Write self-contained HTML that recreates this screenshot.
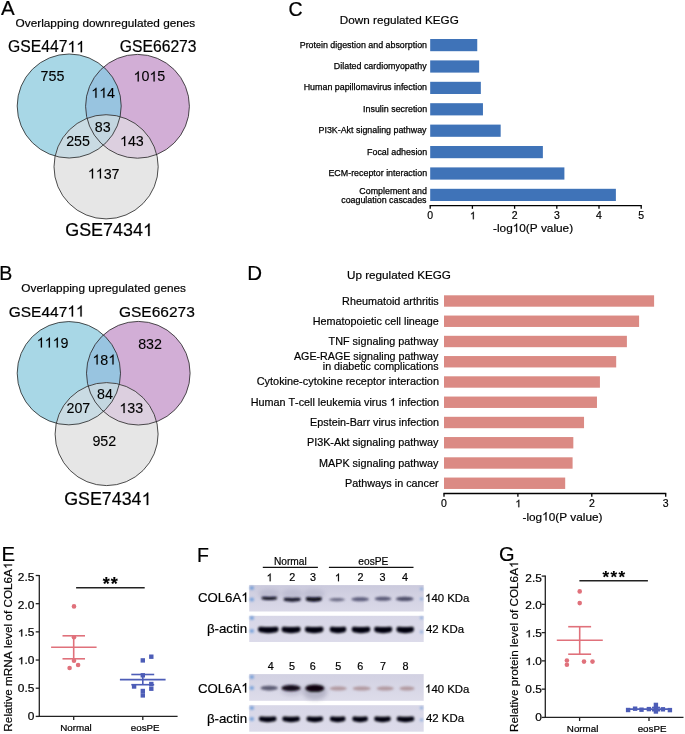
<!DOCTYPE html>
<html><head><meta charset="utf-8"><style>
html,body{margin:0;padding:0;background:#fff;width:685px;height:734px;overflow:hidden}
svg{display:block;font-family:"Liberation Sans",sans-serif;will-change:transform;font-kerning:none}
text{font-kerning:none}
</style></head><body>
<svg width="685" height="734" viewBox="0 0 685 734">
<defs><clipPath id="cla"><circle cx="69.2" cy="106.0" r="52.0"/></clipPath><clipPath id="cra"><circle cx="137.5" cy="106.3" r="51.9"/></clipPath></defs>
<circle cx="69.2" cy="106.0" r="52.0" fill="#a8d7e6"/>
<circle cx="137.5" cy="106.3" r="51.9" fill="#d2aed6"/>
<circle cx="106.1" cy="166.8" r="52.1" fill="#e6e6e6"/>
<circle cx="137.5" cy="106.3" r="51.9" fill="#98c4e0" clip-path="url(#cla)"/>
<circle cx="106.1" cy="166.8" r="52.1" fill="#c9dbe3" clip-path="url(#cla)"/>
<circle cx="106.1" cy="166.8" r="52.1" fill="#dccfdf" clip-path="url(#cra)"/>
<g clip-path="url(#cla)"><circle cx="106.1" cy="166.8" r="52.1" fill="#c3d6e0" clip-path="url(#cra)"/></g>
<circle cx="69.2" cy="106.0" r="52.0" fill="none" stroke="#222" stroke-width="0.8"/>
<circle cx="137.5" cy="106.3" r="51.9" fill="none" stroke="#222" stroke-width="0.8"/>
<circle cx="106.1" cy="166.8" r="52.1" fill="none" stroke="#222" stroke-width="0.8"/>
<g transform="translate(40.59,80.80) scale(1.02,1)"><text font-size="14.0" fill="#000" stroke="#000" stroke-width="0.1">755</text></g>
<g transform="translate(133.52,81.40) scale(1.02,1)"><text font-size="14.0" fill="#000" stroke="#000" stroke-width="0.1"> 0 5</text><path transform="translate(0.000,0) scale(0.006836,-0.006836)" d="M763,0L583,0L583,1147Q518,1085 415,1024.5Q312,964 223,931L223,1105Q374,1176 487,1276.5Q600,1377 647,1472L763,1472Z" fill="#000" stroke="#000" stroke-width="14.6"/><path transform="translate(15.572,0) scale(0.006836,-0.006836)" d="M763,0L583,0L583,1147Q518,1085 415,1024.5Q312,964 223,931L223,1105Q374,1176 487,1276.5Q600,1377 647,1472L763,1472Z" fill="#000" stroke="#000" stroke-width="14.6"/></g>
<g transform="translate(91.25,97.70) scale(1.02,1)"><text font-size="14.0" fill="#000" stroke="#000" stroke-width="0.1">  4</text><path transform="translate(0.000,0) scale(0.006836,-0.006836)" d="M763,0L583,0L583,1147Q518,1085 415,1024.5Q312,964 223,931L223,1105Q374,1176 487,1276.5Q600,1377 647,1472L763,1472Z" fill="#000" stroke="#000" stroke-width="14.6"/><path transform="translate(7.786,0) scale(0.006836,-0.006836)" d="M763,0L583,0L583,1147Q518,1085 415,1024.5Q312,964 223,931L223,1105Q374,1176 487,1276.5Q600,1377 647,1472L763,1472Z" fill="#000" stroke="#000" stroke-width="14.6"/></g>
<g transform="translate(94.77,131.80) scale(1.02,1)"><text font-size="14.0" fill="#000" stroke="#000" stroke-width="0.1">83</text></g>
<g transform="translate(66.19,146.00) scale(1.02,1)"><text font-size="14.0" fill="#000" stroke="#000" stroke-width="0.1">255</text></g>
<g transform="translate(119.96,146.00) scale(1.02,1)"><text font-size="14.0" fill="#000" stroke="#000" stroke-width="0.1"> 43</text><path transform="translate(0.000,0) scale(0.006836,-0.006836)" d="M763,0L583,0L583,1147Q518,1085 415,1024.5Q312,964 223,931L223,1105Q374,1176 487,1276.5Q600,1377 647,1472L763,1472Z" fill="#000" stroke="#000" stroke-width="14.6"/></g>
<g transform="translate(87.79,178.50) scale(1.02,1)"><text font-size="14.0" fill="#000" stroke="#000" stroke-width="0.1">  37</text><path transform="translate(0.000,0) scale(0.006836,-0.006836)" d="M763,0L583,0L583,1147Q518,1085 415,1024.5Q312,964 223,931L223,1105Q374,1176 487,1276.5Q600,1377 647,1472L763,1472Z" fill="#000" stroke="#000" stroke-width="14.6"/><path transform="translate(7.786,0) scale(0.006836,-0.006836)" d="M763,0L583,0L583,1147Q518,1085 415,1024.5Q312,964 223,931L223,1105Q374,1176 487,1276.5Q600,1377 647,1472L763,1472Z" fill="#000" stroke="#000" stroke-width="14.6"/></g>
<g transform="translate(8.12,52.20)"><text font-size="15.7" fill="#000" stroke="#000" stroke-width="0.2">GSE447  </text><path transform="translate(59.350,0) scale(0.007666,-0.007666)" d="M763,0L583,0L583,1147Q518,1085 415,1024.5Q312,964 223,931L223,1105Q374,1176 487,1276.5Q600,1377 647,1472L763,1472Z" fill="#000" stroke="#000" stroke-width="26.1"/><path transform="translate(68.082,0) scale(0.007666,-0.007666)" d="M763,0L583,0L583,1147Q518,1085 415,1024.5Q312,964 223,931L223,1105Q374,1176 487,1276.5Q600,1377 647,1472L763,1472Z" fill="#000" stroke="#000" stroke-width="26.1"/></g>
<g transform="translate(119.81,52.40)"><text font-size="15.7" fill="#000" stroke="#000" stroke-width="0.2">GSE66273</text></g>
<g transform="translate(65.20,236.10) scale(1.025,1)"><text font-size="17.5" fill="#000" stroke="#000" stroke-width="0.2">GSE7434 </text><path transform="translate(75.887,0) scale(0.008545,-0.008545)" d="M763,0L583,0L583,1147Q518,1085 415,1024.5Q312,964 223,931L223,1105Q374,1176 487,1276.5Q600,1377 647,1472L763,1472Z" fill="#000" stroke="#000" stroke-width="23.4"/></g>
<g transform="translate(15.57,27.10)"><text font-size="11.8" fill="#000" stroke="#000" stroke-width="0.2">Overlapping downregulated genes</text></g>
<g transform="translate(1.10,14.90)"><text font-size="20.5" fill="#000" stroke="#000" stroke-width="0.2">A</text></g>
<defs><clipPath id="clb"><circle cx="68.85" cy="373.2" r="51.65"/></clipPath><clipPath id="crb"><circle cx="138.3" cy="373.2" r="51.8"/></clipPath></defs>
<circle cx="68.85" cy="373.2" r="51.65" fill="#a8d7e6"/>
<circle cx="138.3" cy="373.2" r="51.8" fill="#d2aed6"/>
<circle cx="106.6" cy="434.1" r="51.5" fill="#e6e6e6"/>
<circle cx="138.3" cy="373.2" r="51.8" fill="#98c4e0" clip-path="url(#clb)"/>
<circle cx="106.6" cy="434.1" r="51.5" fill="#c9dbe3" clip-path="url(#clb)"/>
<circle cx="106.6" cy="434.1" r="51.5" fill="#dccfdf" clip-path="url(#crb)"/>
<g clip-path="url(#clb)"><circle cx="106.6" cy="434.1" r="51.5" fill="#c3d6e0" clip-path="url(#crb)"/></g>
<circle cx="68.85" cy="373.2" r="51.65" fill="none" stroke="#222" stroke-width="0.8"/>
<circle cx="138.3" cy="373.2" r="51.8" fill="none" stroke="#222" stroke-width="0.8"/>
<circle cx="106.6" cy="434.1" r="51.5" fill="none" stroke="#222" stroke-width="0.8"/>
<g transform="translate(36.71,347.60) scale(1.02,1)"><text font-size="14.0" fill="#000" stroke="#000" stroke-width="0.1">   9</text><path transform="translate(0.000,0) scale(0.006836,-0.006836)" d="M763,0L583,0L583,1147Q518,1085 415,1024.5Q312,964 223,931L223,1105Q374,1176 487,1276.5Q600,1377 647,1472L763,1472Z" fill="#000" stroke="#000" stroke-width="14.6"/><path transform="translate(7.786,0) scale(0.006836,-0.006836)" d="M763,0L583,0L583,1147Q518,1085 415,1024.5Q312,964 223,931L223,1105Q374,1176 487,1276.5Q600,1377 647,1472L763,1472Z" fill="#000" stroke="#000" stroke-width="14.6"/><path transform="translate(15.572,0) scale(0.006836,-0.006836)" d="M763,0L583,0L583,1147Q518,1085 415,1024.5Q312,964 223,931L223,1105Q374,1176 487,1276.5Q600,1377 647,1472L763,1472Z" fill="#000" stroke="#000" stroke-width="14.6"/></g>
<g transform="translate(138.15,348.50) scale(1.02,1)"><text font-size="14.0" fill="#000" stroke="#000" stroke-width="0.1">832</text></g>
<g transform="translate(92.42,364.50) scale(1.02,1)"><text font-size="14.0" fill="#000" stroke="#000" stroke-width="0.1"> 8 </text><path transform="translate(0.000,0) scale(0.006836,-0.006836)" d="M763,0L583,0L583,1147Q518,1085 415,1024.5Q312,964 223,931L223,1105Q374,1176 487,1276.5Q600,1377 647,1472L763,1472Z" fill="#000" stroke="#000" stroke-width="14.6"/><path transform="translate(15.572,0) scale(0.006836,-0.006836)" d="M763,0L583,0L583,1147Q518,1085 415,1024.5Q312,964 223,931L223,1105Q374,1176 487,1276.5Q600,1377 647,1472L763,1472Z" fill="#000" stroke="#000" stroke-width="14.6"/></g>
<g transform="translate(97.02,398.60) scale(1.02,1)"><text font-size="14.0" fill="#000" stroke="#000" stroke-width="0.1">84</text></g>
<g transform="translate(66.46,413.10) scale(1.02,1)"><text font-size="14.0" fill="#000" stroke="#000" stroke-width="0.1">207</text></g>
<g transform="translate(119.36,413.10) scale(1.02,1)"><text font-size="14.0" fill="#000" stroke="#000" stroke-width="0.1"> 33</text><path transform="translate(0.000,0) scale(0.006836,-0.006836)" d="M763,0L583,0L583,1147Q518,1085 415,1024.5Q312,964 223,931L223,1105Q374,1176 487,1276.5Q600,1377 647,1472L763,1472Z" fill="#000" stroke="#000" stroke-width="14.6"/></g>
<g transform="translate(92.40,445.80) scale(1.02,1)"><text font-size="14.0" fill="#000" stroke="#000" stroke-width="0.1">952</text></g>
<g transform="translate(8.72,316.60)"><text font-size="15.5" fill="#000" stroke="#000" stroke-width="0.2">GSE447  </text><path transform="translate(58.594,0) scale(0.007568,-0.007568)" d="M763,0L583,0L583,1147Q518,1085 415,1024.5Q312,964 223,931L223,1105Q374,1176 487,1276.5Q600,1377 647,1472L763,1472Z" fill="#000" stroke="#000" stroke-width="26.4"/><path transform="translate(67.215,0) scale(0.007568,-0.007568)" d="M763,0L583,0L583,1147Q518,1085 415,1024.5Q312,964 223,931L223,1105Q374,1176 487,1276.5Q600,1377 647,1472L763,1472Z" fill="#000" stroke="#000" stroke-width="26.4"/></g>
<g transform="translate(118.92,316.50)"><text font-size="15.5" fill="#000" stroke="#000" stroke-width="0.2">GSE66273</text></g>
<g transform="translate(64.21,505.10) scale(1.02,1)"><text font-size="17.5" fill="#000" stroke="#000" stroke-width="0.2">GSE7434 </text><path transform="translate(75.887,0) scale(0.008545,-0.008545)" d="M763,0L583,0L583,1147Q518,1085 415,1024.5Q312,964 223,931L223,1105Q374,1176 487,1276.5Q600,1377 647,1472L763,1472Z" fill="#000" stroke="#000" stroke-width="23.4"/></g>
<g transform="translate(21.37,292.40)"><text font-size="11.8" fill="#000" stroke="#000" stroke-width="0.2">Overlapping upregulated genes</text></g>
<g transform="translate(-0.86,280.40)"><text font-size="19.5" fill="#000" stroke="#000" stroke-width="0.2">B</text></g>
<g transform="translate(288.42,15.50)"><text font-size="19.5" fill="#000" stroke="#000" stroke-width="0.2">C</text></g>
<g transform="translate(339.86,24.30)"><text font-size="11.7" fill="#000" stroke="#000" stroke-width="0.2">Down regulated KEGG</text></g>
<rect x="430.2" y="39.00" width="47.05" height="12.2" fill="#3f73b8"/>
<g transform="translate(299.71,47.60)"><text font-size="8.9" fill="#000" stroke="#000" stroke-width="0.25">Protein digestion and absorption</text></g>
<rect x="430.2" y="60.40" width="48.95" height="12.2" fill="#3f73b8"/>
<g transform="translate(333.84,69.00)"><text font-size="8.9" fill="#000" stroke="#000" stroke-width="0.25">Dilated cardiomyopathy</text></g>
<rect x="430.2" y="81.80" width="50.64" height="12.2" fill="#3f73b8"/>
<g transform="translate(303.71,90.40)"><text font-size="8.9" fill="#000" stroke="#000" stroke-width="0.25">Human papillomavirus infection</text></g>
<rect x="430.2" y="103.20" width="52.75" height="12.2" fill="#3f73b8"/>
<g transform="translate(363.08,111.80)"><text font-size="8.9" fill="#000" stroke="#000" stroke-width="0.25">Insulin secretion</text></g>
<rect x="430.2" y="124.60" width="70.47" height="12.2" fill="#3f73b8"/>
<g transform="translate(318.49,133.20)"><text font-size="8.9" fill="#000" stroke="#000" stroke-width="0.25">PI3K-Akt signaling pathway</text></g>
<rect x="430.2" y="146.00" width="112.67" height="12.2" fill="#3f73b8"/>
<g transform="translate(367.04,154.60)"><text font-size="8.9" fill="#000" stroke="#000" stroke-width="0.25">Focal adhesion</text></g>
<rect x="430.2" y="167.40" width="134.20" height="12.2" fill="#3f73b8"/>
<g transform="translate(328.45,176.00)"><text font-size="8.9" fill="#000" stroke="#000" stroke-width="0.25">ECM-receptor interaction</text></g>
<rect x="430.2" y="188.80" width="185.68" height="12.2" fill="#3f73b8"/>
<g transform="translate(359.31,193.60)"><text font-size="8.9" fill="#000" stroke="#000" stroke-width="0.25">Complement and</text></g>
<g transform="translate(341.19,202.50)"><text font-size="8.9" fill="#000" stroke="#000" stroke-width="0.25">coagulation cascades</text></g>
<line x1="429.59999999999997" y1="205.6" x2="641.8000000000001" y2="205.6" stroke="#000" stroke-width="1.3"/>
<line x1="430.2" y1="205.6" x2="430.2" y2="208.79999999999998" stroke="#000" stroke-width="1.3"/>
<g transform="translate(427.29,219.30)"><text font-size="10.5" fill="#000" stroke="#000" stroke-width="0.2">0</text></g>
<line x1="472.4" y1="205.6" x2="472.4" y2="208.79999999999998" stroke="#000" stroke-width="1.3"/>
<g transform="translate(469.87,219.30)"><text font-size="10.5" fill="#000" stroke="#000" stroke-width="0.2"> </text><path transform="translate(0.000,0) scale(0.005127,-0.005127)" d="M763,0L583,0L583,1147Q518,1085 415,1024.5Q312,964 223,931L223,1105Q374,1176 487,1276.5Q600,1377 647,1472L763,1472Z" fill="#000" stroke="#000" stroke-width="39.0"/></g>
<line x1="514.6" y1="205.6" x2="514.6" y2="208.79999999999998" stroke="#000" stroke-width="1.3"/>
<g transform="translate(511.69,219.30)"><text font-size="10.5" fill="#000" stroke="#000" stroke-width="0.2">2</text></g>
<line x1="556.8" y1="205.6" x2="556.8" y2="208.79999999999998" stroke="#000" stroke-width="1.3"/>
<g transform="translate(553.91,219.30)"><text font-size="10.5" fill="#000" stroke="#000" stroke-width="0.2">3</text></g>
<line x1="599.0" y1="205.6" x2="599.0" y2="208.79999999999998" stroke="#000" stroke-width="1.3"/>
<g transform="translate(596.11,219.30)"><text font-size="10.5" fill="#000" stroke="#000" stroke-width="0.2">4</text></g>
<line x1="641.2" y1="205.6" x2="641.2" y2="208.79999999999998" stroke="#000" stroke-width="1.3"/>
<g transform="translate(638.29,219.30)"><text font-size="10.5" fill="#000" stroke="#000" stroke-width="0.2">5</text></g>
<g transform="translate(493.07,232.00)"><text font-size="11.8" fill="#000" stroke="#000" stroke-width="0.2">-log 0(P value)</text><path transform="translate(19.676,0) scale(0.005762,-0.005762)" d="M763,0L583,0L583,1147Q518,1085 415,1024.5Q312,964 223,931L223,1105Q374,1176 487,1276.5Q600,1377 647,1472L763,1472Z" fill="#000" stroke="#000" stroke-width="34.7"/></g>
<g transform="translate(247.36,279.60)"><text font-size="20.5" fill="#000" stroke="#000" stroke-width="0.2">D</text></g>
<g transform="translate(347.02,278.80)"><text font-size="11.7" fill="#000" stroke="#000" stroke-width="0.2">Up regulated KEGG</text></g>
<rect x="444.0" y="295.30" width="210.10" height="11.4" fill="#db8a84"/>
<g transform="translate(342.12,304.60)"><text font-size="10.8" fill="#000" stroke="#000" stroke-width="0.2">Rheumatoid arthritis</text></g>
<rect x="444.0" y="315.55" width="195.10" height="11.4" fill="#db8a84"/>
<g transform="translate(312.80,324.85)"><text font-size="10.8" fill="#000" stroke="#000" stroke-width="0.2">Hematopoietic cell lineage</text></g>
<rect x="444.0" y="335.80" width="182.90" height="11.4" fill="#db8a84"/>
<g transform="translate(328.62,345.10)"><text font-size="10.8" fill="#000" stroke="#000" stroke-width="0.2">TNF signaling pathway</text></g>
<rect x="444.0" y="356.05" width="172.19" height="11.4" fill="#db8a84"/>
<rect x="444.0" y="376.30" width="155.93" height="11.4" fill="#db8a84"/>
<g transform="translate(256.75,384.60)"><text font-size="10.9" fill="#000" stroke="#000" stroke-width="0.2">Cytokine-cytokine receptor interaction</text></g>
<rect x="444.0" y="396.55" width="152.97" height="11.4" fill="#db8a84"/>
<g transform="translate(250.64,405.85)"><text font-size="10.8" fill="#000" stroke="#000" stroke-width="0.2">Human T-cell leukemia virus   infection</text><path transform="translate(139.240,0) scale(0.005273,-0.005273)" d="M763,0L583,0L583,1147Q518,1085 415,1024.5Q312,964 223,931L223,1105Q374,1176 487,1276.5Q600,1377 647,1472L763,1472Z" fill="#000" stroke="#000" stroke-width="37.9"/></g>
<rect x="444.0" y="416.80" width="140.04" height="11.4" fill="#db8a84"/>
<g transform="translate(310.04,426.10)"><text font-size="10.8" fill="#000" stroke="#000" stroke-width="0.2">Epstein-Barr virus infection</text></g>
<rect x="444.0" y="437.05" width="129.33" height="11.4" fill="#db8a84"/>
<g transform="translate(306.96,446.35)"><text font-size="10.8" fill="#000" stroke="#000" stroke-width="0.2">PI3K-Akt signaling pathway</text></g>
<rect x="444.0" y="457.30" width="128.59" height="11.4" fill="#db8a84"/>
<g transform="translate(319.01,466.60)"><text font-size="10.8" fill="#000" stroke="#000" stroke-width="0.2">MAPK signaling pathway</text></g>
<rect x="444.0" y="477.55" width="121.20" height="11.4" fill="#db8a84"/>
<g transform="translate(344.93,486.85)"><text font-size="10.8" fill="#000" stroke="#000" stroke-width="0.2">Pathways in cancer</text></g>
<g transform="translate(293.95,359.90)"><text font-size="10.7" fill="#000" stroke="#000" stroke-width="0.2">AGE-RAGE signaling pathway</text></g>
<g transform="translate(322.79,369.70)"><text font-size="10.7" fill="#000" stroke="#000" stroke-width="0.2">in diabetic complications</text></g>
<line x1="443.4" y1="493.5" x2="666.3000000000001" y2="493.5" stroke="#000" stroke-width="1.3"/>
<line x1="444.0" y1="493.5" x2="444.0" y2="496.7" stroke="#000" stroke-width="1.3"/>
<g transform="translate(441.09,507.20)"><text font-size="10.5" fill="#000" stroke="#000" stroke-width="0.2">0</text></g>
<line x1="517.9" y1="493.5" x2="517.9" y2="496.7" stroke="#000" stroke-width="1.3"/>
<g transform="translate(515.37,507.20)"><text font-size="10.5" fill="#000" stroke="#000" stroke-width="0.2"> </text><path transform="translate(0.000,0) scale(0.005127,-0.005127)" d="M763,0L583,0L583,1147Q518,1085 415,1024.5Q312,964 223,931L223,1105Q374,1176 487,1276.5Q600,1377 647,1472L763,1472Z" fill="#000" stroke="#000" stroke-width="39.0"/></g>
<line x1="591.8" y1="493.5" x2="591.8" y2="496.7" stroke="#000" stroke-width="1.3"/>
<g transform="translate(588.89,507.20)"><text font-size="10.5" fill="#000" stroke="#000" stroke-width="0.2">2</text></g>
<line x1="665.7" y1="493.5" x2="665.7" y2="496.7" stroke="#000" stroke-width="1.3"/>
<g transform="translate(662.81,507.20)"><text font-size="10.5" fill="#000" stroke="#000" stroke-width="0.2">3</text></g>
<g transform="translate(522.47,520.50)"><text font-size="11.8" fill="#000" stroke="#000" stroke-width="0.2">-log 0(P value)</text><path transform="translate(19.676,0) scale(0.005762,-0.005762)" d="M763,0L583,0L583,1147Q518,1085 415,1024.5Q312,964 223,931L223,1105Q374,1176 487,1276.5Q600,1377 647,1472L763,1472Z" fill="#000" stroke="#000" stroke-width="34.7"/></g>
<line x1="39.3" y1="574.9" x2="39.3" y2="716.4" stroke="#222" stroke-width="1.3"/>
<line x1="38.699999999999996" y1="716.4" x2="177.6" y2="716.4" stroke="#222" stroke-width="1.3"/>
<line x1="35.699999999999996" y1="716.40" x2="39.3" y2="716.40" stroke="#222" stroke-width="1.3"/>
<g transform="translate(27.76,720.00) scale(1.18,1)"><text font-size="10.1" fill="#000" stroke="#000" stroke-width="0.2">0</text></g>
<line x1="35.699999999999996" y1="688.22" x2="39.3" y2="688.22" stroke="#222" stroke-width="1.3"/>
<g transform="translate(17.81,692.16) scale(1.18,1)"><text font-size="10.1" fill="#000" stroke="#000" stroke-width="0.2">0.5</text></g>
<line x1="35.699999999999996" y1="660.04" x2="39.3" y2="660.04" stroke="#222" stroke-width="1.3"/>
<g transform="translate(17.81,664.32) scale(1.18,1)"><text font-size="10.1" fill="#000" stroke="#000" stroke-width="0.2"> .0</text><path transform="translate(0.000,0) scale(0.004932,-0.004932)" d="M763,0L583,0L583,1147Q518,1085 415,1024.5Q312,964 223,931L223,1105Q374,1176 487,1276.5Q600,1377 647,1472L763,1472Z" fill="#000" stroke="#000" stroke-width="40.6"/></g>
<line x1="35.699999999999996" y1="631.86" x2="39.3" y2="631.86" stroke="#222" stroke-width="1.3"/>
<g transform="translate(17.81,636.48) scale(1.18,1)"><text font-size="10.1" fill="#000" stroke="#000" stroke-width="0.2"> .5</text><path transform="translate(0.000,0) scale(0.004932,-0.004932)" d="M763,0L583,0L583,1147Q518,1085 415,1024.5Q312,964 223,931L223,1105Q374,1176 487,1276.5Q600,1377 647,1472L763,1472Z" fill="#000" stroke="#000" stroke-width="40.6"/></g>
<line x1="35.699999999999996" y1="603.68" x2="39.3" y2="603.68" stroke="#222" stroke-width="1.3"/>
<g transform="translate(17.81,608.64) scale(1.18,1)"><text font-size="10.1" fill="#000" stroke="#000" stroke-width="0.2">2.0</text></g>
<line x1="35.699999999999996" y1="575.50" x2="39.3" y2="575.50" stroke="#222" stroke-width="1.3"/>
<g transform="translate(17.81,580.80) scale(1.18,1)"><text font-size="10.1" fill="#000" stroke="#000" stroke-width="0.2">2.5</text></g>
<line x1="73.7" y1="716.4" x2="73.7" y2="720.0" stroke="#222" stroke-width="1.3"/>
<line x1="142.8" y1="716.4" x2="142.8" y2="720.0" stroke="#222" stroke-width="1.3"/>
<g transform="translate(60.26,730.80) scale(1.1,1)"><text font-size="8.9" fill="#000" stroke="#000" stroke-width="0.2">Normal</text></g>
<g transform="translate(130.76,730.80) scale(1.1,1)"><text font-size="8.9" fill="#000" stroke="#000" stroke-width="0.2">eosPE</text></g>
<g transform="translate(1.38,560.90)"><text font-size="20.3" fill="#000" stroke="#000" stroke-width="0.2">E</text></g>
<g transform="translate(12.10,731.64) rotate(-90)"><text font-size="11.76" fill="#000" stroke="#000" stroke-width="0.2">Relative mRNA level of COL6A </text><path transform="translate(162.739,0) scale(0.005742,-0.005742)" d="M763,0L583,0L583,1147Q518,1085 415,1024.5Q312,964 223,931L223,1105Q374,1176 487,1276.5Q600,1377 647,1472L763,1472Z" fill="#000" stroke="#000" stroke-width="34.8"/></g>
<line x1="76.1" y1="587.7" x2="144.7" y2="587.7" stroke="#222" stroke-width="1.6"/>
<g transform="translate(102.69,590.00)"><text font-size="18" font-weight="bold" fill="#000" stroke="#000" stroke-width="0.15">*</text></g>
<g transform="translate(110.79,590.00)"><text font-size="18" font-weight="bold" fill="#000" stroke="#000" stroke-width="0.15">*</text></g>
<circle cx="74" cy="606.4" r="2.3" fill="#e0717b"/>
<circle cx="74" cy="637.3" r="2.3" fill="#e0717b"/>
<circle cx="74" cy="660.7" r="2.3" fill="#e0717b"/>
<circle cx="78.1" cy="665" r="2.3" fill="#e0717b"/>
<circle cx="69.6" cy="668" r="2.3" fill="#e0717b"/>
<g stroke="#e0717b" stroke-width="1.6"><line x1="51.1" y1="647.2" x2="96.6" y2="647.2"/><line x1="62.5" y1="635.8" x2="85" y2="635.8"/><line x1="62.5" y1="658.8" x2="85" y2="658.8"/><line x1="73.7" y1="635.8" x2="73.7" y2="658.8"/></g>
<rect x="140.60000000000002" y="658.1999999999999" width="4.4" height="4.4" fill="#4d5db7"/>
<rect x="149.10000000000002" y="654.5" width="4.4" height="4.4" fill="#4d5db7"/>
<rect x="140.60000000000002" y="673.0999999999999" width="4.4" height="4.4" fill="#4d5db7"/>
<rect x="131.9" y="684.3" width="4.4" height="4.4" fill="#4d5db7"/>
<rect x="149.10000000000002" y="681.8" width="4.4" height="4.4" fill="#4d5db7"/>
<rect x="149.10000000000002" y="686.5" width="4.4" height="4.4" fill="#4d5db7"/>
<rect x="140.60000000000002" y="688.8" width="4.4" height="4.4" fill="#4d5db7"/>
<rect x="140.60000000000002" y="693.1999999999999" width="4.4" height="4.4" fill="#4d5db7"/>
<g stroke="#4d5db7" stroke-width="1.6"><line x1="119.9" y1="679.6" x2="165.6" y2="679.6"/><line x1="131.3" y1="674.5" x2="154.2" y2="674.5"/><line x1="131.3" y1="684.7" x2="154.2" y2="684.7"/><line x1="142.8" y1="674.5" x2="142.8" y2="684.7"/></g>
<line x1="545.3" y1="575.5" x2="545.3" y2="717.4" stroke="#222" stroke-width="1.3"/>
<line x1="544.6999999999999" y1="717.4" x2="683.5" y2="717.4" stroke="#222" stroke-width="1.3"/>
<line x1="541.6999999999999" y1="717.40" x2="545.3" y2="717.40" stroke="#222" stroke-width="1.3"/>
<g transform="translate(535.26,720.60) scale(1.18,1)"><text font-size="10.1" fill="#000" stroke="#000" stroke-width="0.2">0</text></g>
<line x1="541.6999999999999" y1="689.14" x2="545.3" y2="689.14" stroke="#222" stroke-width="1.3"/>
<g transform="translate(525.31,692.82) scale(1.18,1)"><text font-size="10.1" fill="#000" stroke="#000" stroke-width="0.2">0.5</text></g>
<line x1="541.6999999999999" y1="660.88" x2="545.3" y2="660.88" stroke="#222" stroke-width="1.3"/>
<g transform="translate(525.31,665.04) scale(1.18,1)"><text font-size="10.1" fill="#000" stroke="#000" stroke-width="0.2"> .0</text><path transform="translate(0.000,0) scale(0.004932,-0.004932)" d="M763,0L583,0L583,1147Q518,1085 415,1024.5Q312,964 223,931L223,1105Q374,1176 487,1276.5Q600,1377 647,1472L763,1472Z" fill="#000" stroke="#000" stroke-width="40.6"/></g>
<line x1="541.6999999999999" y1="632.62" x2="545.3" y2="632.62" stroke="#222" stroke-width="1.3"/>
<g transform="translate(525.31,637.26) scale(1.18,1)"><text font-size="10.1" fill="#000" stroke="#000" stroke-width="0.2"> .5</text><path transform="translate(0.000,0) scale(0.004932,-0.004932)" d="M763,0L583,0L583,1147Q518,1085 415,1024.5Q312,964 223,931L223,1105Q374,1176 487,1276.5Q600,1377 647,1472L763,1472Z" fill="#000" stroke="#000" stroke-width="40.6"/></g>
<line x1="541.6999999999999" y1="604.36" x2="545.3" y2="604.36" stroke="#222" stroke-width="1.3"/>
<g transform="translate(525.31,609.48) scale(1.18,1)"><text font-size="10.1" fill="#000" stroke="#000" stroke-width="0.2">2.0</text></g>
<line x1="541.6999999999999" y1="576.10" x2="545.3" y2="576.10" stroke="#222" stroke-width="1.3"/>
<g transform="translate(525.31,581.70) scale(1.18,1)"><text font-size="10.1" fill="#000" stroke="#000" stroke-width="0.2">2.5</text></g>
<line x1="579.6" y1="717.4" x2="579.6" y2="721.0" stroke="#222" stroke-width="1.3"/>
<line x1="649.0" y1="717.4" x2="649.0" y2="721.0" stroke="#222" stroke-width="1.3"/>
<g transform="translate(566.86,731.70) scale(1.1,1)"><text font-size="8.9" fill="#000" stroke="#000" stroke-width="0.2">Normal</text></g>
<g transform="translate(637.66,731.70) scale(1.1,1)"><text font-size="8.9" fill="#000" stroke="#000" stroke-width="0.2">eosPE</text></g>
<g transform="translate(498.90,560.90)"><text font-size="20.0" fill="#000" stroke="#000" stroke-width="0.2">G</text></g>
<g transform="translate(518.10,731.94) rotate(-90)"><text font-size="11.76" fill="#000" stroke="#000" stroke-width="0.2">Relative protein level of COL6A </text><path transform="translate(164.072,0) scale(0.005742,-0.005742)" d="M763,0L583,0L583,1147Q518,1085 415,1024.5Q312,964 223,931L223,1105Q374,1176 487,1276.5Q600,1377 647,1472L763,1472Z" fill="#000" stroke="#000" stroke-width="34.8"/></g>
<line x1="579.4" y1="580.8" x2="647.9" y2="580.8" stroke="#222" stroke-width="1.6"/>
<g transform="translate(602.38,582.50)"><text font-size="17" font-weight="bold" fill="#000" stroke="#000" stroke-width="0.15">*</text></g>
<g transform="translate(610.48,582.50)"><text font-size="17" font-weight="bold" fill="#000" stroke="#000" stroke-width="0.15">*</text></g>
<g transform="translate(618.48,582.50)"><text font-size="17" font-weight="bold" fill="#000" stroke="#000" stroke-width="0.15">*</text></g>
<circle cx="579.7" cy="591.4" r="2.3" fill="#e0717b"/>
<circle cx="579.7" cy="603.1" r="2.3" fill="#e0717b"/>
<circle cx="566.9" cy="660.5" r="2.3" fill="#e0717b"/>
<circle cx="566.9" cy="664.8" r="2.3" fill="#e0717b"/>
<circle cx="584" cy="661.6" r="2.3" fill="#e0717b"/>
<circle cx="592.5" cy="661.6" r="2.3" fill="#e0717b"/>
<g stroke="#e0717b" stroke-width="1.6"><line x1="556.8" y1="640.3" x2="602.8" y2="640.3"/><line x1="568.2" y1="626.7" x2="591.1" y2="626.7"/><line x1="568.2" y1="654.2" x2="591.1" y2="654.2"/><line x1="579.7" y1="626.7" x2="579.7" y2="654.2"/></g>
<rect x="625.9" y="707.8" width="4.4" height="4.4" fill="#4d5db7"/>
<rect x="632.9" y="706.5" width="4.4" height="4.4" fill="#4d5db7"/>
<rect x="639.3" y="707.5" width="4.4" height="4.4" fill="#4d5db7"/>
<rect x="646.6999999999999" y="706.9" width="4.4" height="4.4" fill="#4d5db7"/>
<rect x="653.6999999999999" y="702.6999999999999" width="4.4" height="4.4" fill="#4d5db7"/>
<rect x="653.6999999999999" y="709.3" width="4.4" height="4.4" fill="#4d5db7"/>
<rect x="653.6999999999999" y="706.5999999999999" width="4.4" height="4.4" fill="#4d5db7"/>
<rect x="660.6999999999999" y="707.0999999999999" width="4.4" height="4.4" fill="#4d5db7"/>
<rect x="667.6999999999999" y="707.9" width="4.4" height="4.4" fill="#4d5db7"/>
<g stroke="#4d5db7" stroke-width="1.6"><line x1="628.8" y1="709.1" x2="669" y2="709.1"/><line x1="652" y1="707.5" x2="660" y2="707.5"/><line x1="652" y1="710.7" x2="660" y2="710.7"/><line x1="655.9" y1="707.5" x2="655.9" y2="710.7"/></g>
<g transform="translate(196.94,561.60)"><text font-size="19.5" fill="#000" stroke="#000" stroke-width="0.2">F</text></g>
<defs><filter id="bl" x="-50%" y="-100%" width="200%" height="300%"><feGaussianBlur stdDeviation="0.8"/></filter><filter id="bl2" x="-50%" y="-100%" width="200%" height="300%"><feGaussianBlur stdDeviation="2.2"/></filter><linearGradient id="g1" x1="0" y1="0" x2="0" y2="1"><stop offset="0" stop-color="#cbcadd"/><stop offset="0.45" stop-color="#d3d2e3"/><stop offset="1" stop-color="#dad9e8"/></linearGradient><linearGradient id="g3" x1="0" y1="0" x2="0" y2="1"><stop offset="0" stop-color="#d2d1e2"/><stop offset="1" stop-color="#dddcea"/></linearGradient><linearGradient id="g2" x1="0" y1="0" x2="0" y2="1"><stop offset="0" stop-color="#d8d7e7"/><stop offset="1" stop-color="#dcdbea"/></linearGradient></defs>
<rect x="249.2" y="585.1" width="174.5" height="26.399999999999977" fill="url(#g1)"/>
<rect x="249.2" y="615.8" width="174.5" height="26.200000000000045" fill="url(#g2)"/>
<rect x="249.2" y="674.1" width="174.5" height="26.699999999999932" fill="url(#g3)"/>
<rect x="249.2" y="705.2" width="174.5" height="26.5" fill="url(#g2)"/>
<ellipse cx="269.2" cy="594" rx="11.0" ry="5.0" fill="#9c9cb8" opacity="0.35" filter="url(#bl2)"/>
<ellipse cx="292.2" cy="594" rx="11.0" ry="5.0" fill="#9c9cb8" opacity="0.35" filter="url(#bl2)"/>
<ellipse cx="313.9" cy="594" rx="11.0" ry="5.0" fill="#9c9cb8" opacity="0.35" filter="url(#bl2)"/>
<path d="M261.55,598.25 C261.55,596.90 262.48,596.75 264.34,596.84 C267.75,597.02 270.85,597.02 274.26,596.84 C276.12,596.75 277.05,596.90 277.05,598.10 C277.05,599.15 276.12,599.60 273.95,599.75 C271.16,600.20 267.44,600.20 264.65,599.75 C262.48,599.60 261.55,599.15 261.55,598.25Z" fill="#0e0e20" opacity="1" filter="url(#bl)"/>
<path d="M283.70,599.42 C283.70,597.80 284.72,597.62 286.76,597.73 C290.50,597.94 293.90,597.94 297.64,597.73 C299.68,597.62 300.70,597.80 300.70,599.24 C300.70,600.50 299.68,601.04 297.30,601.22 C294.24,601.76 290.16,601.76 287.10,601.22 C284.72,601.04 283.70,600.50 283.70,599.42Z" fill="#15152a" opacity="1" filter="url(#bl)"/>
<path d="M305.80,599.08 C305.80,597.10 306.76,596.88 308.68,597.01 C312.20,597.28 315.40,597.28 318.92,597.01 C320.84,596.88 321.80,597.10 321.80,598.86 C321.80,600.40 320.84,601.06 318.60,601.28 C315.72,601.94 311.88,601.94 309.00,601.28 C306.76,601.06 305.80,600.40 305.80,599.08Z" fill="#08081a" opacity="1" filter="url(#bl)"/>
<path d="M329.00,599.60 C329.48,597.36 344.52,597.36 345.00,599.60 C344.52,601.98 329.48,601.98 329.00,599.60Z" fill="#5c5c76" opacity="0.85" filter="url(#bl)"/>
<path d="M351.45,599.20 C351.97,596.56 368.43,596.56 368.95,599.20 C368.43,602.00 351.97,602.00 351.45,599.20Z" fill="#505070" opacity="0.9" filter="url(#bl)"/>
<path d="M374.75,598.80 C375.25,596.23 390.75,596.23 391.25,598.80 C390.75,601.53 375.25,601.53 374.75,598.80Z" fill="#4c4c6a" opacity="0.9" filter="url(#bl)"/>
<path d="M395.95,598.90 C396.47,596.19 412.93,596.19 413.45,598.90 C412.93,601.77 396.47,601.77 395.95,598.90Z" fill="#464664" opacity="0.95" filter="url(#bl)"/>
<path d="M258.05,629.60 C258.05,626.90 259.28,626.60 261.74,626.78 C266.25,627.14 270.35,627.14 274.86,626.78 C277.32,626.60 278.55,626.90 278.55,629.30 C278.55,631.40 277.32,632.30 274.45,632.60 C270.76,633.50 265.84,633.50 262.15,632.60 C259.28,632.30 258.05,631.40 258.05,629.60Z" fill="#05050c" opacity="1" filter="url(#bl)"/>
<path d="M281.60,629.60 C281.60,626.90 282.74,626.60 285.02,626.78 C289.20,627.14 293.00,627.14 297.18,626.78 C299.46,626.60 300.60,626.90 300.60,629.30 C300.60,631.40 299.46,632.30 296.80,632.60 C293.38,633.50 288.82,633.50 285.40,632.60 C282.74,632.30 281.60,631.40 281.60,629.60Z" fill="#05050c" opacity="1" filter="url(#bl)"/>
<path d="M304.95,629.60 C304.95,626.90 306.06,626.60 308.28,626.78 C312.35,627.14 316.05,627.14 320.12,626.78 C322.34,626.60 323.45,626.90 323.45,629.30 C323.45,631.40 322.34,632.30 319.75,632.60 C316.42,633.50 311.98,633.50 308.65,632.60 C306.06,632.30 304.95,631.40 304.95,629.60Z" fill="#05050c" opacity="1" filter="url(#bl)"/>
<path d="M329.75,629.60 C329.75,626.90 330.74,626.60 332.72,626.78 C336.35,627.14 339.65,627.14 343.28,626.78 C345.26,626.60 346.25,626.90 346.25,629.30 C346.25,631.40 345.26,632.30 342.95,632.60 C339.98,633.50 336.02,633.50 333.05,632.60 C330.74,632.30 329.75,631.40 329.75,629.60Z" fill="#05050c" opacity="1" filter="url(#bl)"/>
<path d="M351.75,629.60 C351.75,626.90 352.86,626.60 355.08,626.78 C359.15,627.14 362.85,627.14 366.92,626.78 C369.14,626.60 370.25,626.90 370.25,629.30 C370.25,631.40 369.14,632.30 366.55,632.60 C363.22,633.50 358.78,633.50 355.45,632.60 C352.86,632.30 351.75,631.40 351.75,629.60Z" fill="#05050c" opacity="1" filter="url(#bl)"/>
<path d="M374.20,629.60 C374.20,626.90 375.28,626.60 377.44,626.78 C381.40,627.14 385.00,627.14 388.96,626.78 C391.12,626.60 392.20,626.90 392.20,629.30 C392.20,631.40 391.12,632.30 388.60,632.60 C385.36,633.50 381.04,633.50 377.80,632.60 C375.28,632.30 374.20,631.40 374.20,629.60Z" fill="#05050c" opacity="1" filter="url(#bl)"/>
<path d="M396.45,629.60 C396.45,626.90 397.50,626.60 399.60,626.78 C403.45,627.14 406.95,627.14 410.80,626.78 C412.90,626.60 413.95,626.90 413.95,629.30 C413.95,631.40 412.90,632.30 410.45,632.60 C407.30,633.50 403.10,633.50 399.95,632.60 C397.50,632.30 396.45,631.40 396.45,629.60Z" fill="#05050c" opacity="1" filter="url(#bl)"/>
<ellipse cx="292" cy="690" rx="11.0" ry="6.0" fill="#9a98b0" opacity="0.35" filter="url(#bl2)"/>
<ellipse cx="315" cy="692" rx="12.0" ry="8.0" fill="#8a88a0" opacity="0.45" filter="url(#bl2)"/>
<path d="M260.45,688.00 C260.97,684.96 277.43,684.96 277.95,688.00 C277.43,691.22 260.97,691.22 260.45,688.00Z" fill="#505068" opacity="0.9" filter="url(#bl)"/>
<path d="M281.50,688.00 C282.07,684.04 299.93,684.04 300.50,688.00 C299.93,692.20 282.07,692.20 281.50,688.00Z" fill="#140a1c" opacity="1" filter="url(#bl)"/>
<path d="M305.30,688.20 C305.87,683.58 323.73,683.58 324.30,688.20 C323.73,693.10 305.87,693.10 305.30,688.20Z" fill="#080408" opacity="1" filter="url(#bl)"/>
<path d="M329.70,688.40 C330.21,685.76 346.19,685.76 346.70,688.40 C346.19,691.20 330.21,691.20 329.70,688.40Z" fill="#a88a8e" opacity="0.8" filter="url(#bl)"/>
<path d="M352.70,688.40 C353.24,685.76 370.16,685.76 370.70,688.40 C370.16,691.20 353.24,691.20 352.70,688.40Z" fill="#a88a8e" opacity="0.8" filter="url(#bl)"/>
<path d="M376.70,688.40 C377.21,685.76 393.19,685.76 393.70,688.40 C393.19,691.20 377.21,691.20 376.70,688.40Z" fill="#a88a8e" opacity="0.8" filter="url(#bl)"/>
<path d="M399.50,688.40 C399.95,685.76 414.05,685.76 414.50,688.40 C414.05,691.20 399.95,691.20 399.50,688.40Z" fill="#a88a8e" opacity="0.8" filter="url(#bl)"/>
<path d="M258.95,718.94 C258.95,716.60 260.00,716.34 262.10,716.50 C265.95,716.81 269.45,716.81 273.30,716.50 C275.40,716.34 276.45,716.60 276.45,718.68 C276.45,720.50 275.40,721.28 272.95,721.54 C269.80,722.32 265.60,722.32 262.45,721.54 C260.00,721.28 258.95,720.50 258.95,718.94Z" fill="#06060e" opacity="1" filter="url(#bl)"/>
<path d="M282.35,718.94 C282.35,716.60 283.40,716.34 285.50,716.50 C289.35,716.81 292.85,716.81 296.70,716.50 C298.80,716.34 299.85,716.60 299.85,718.68 C299.85,720.50 298.80,721.28 296.35,721.54 C293.20,722.32 289.00,722.32 285.85,721.54 C283.40,721.28 282.35,720.50 282.35,718.94Z" fill="#06060e" opacity="1" filter="url(#bl)"/>
<path d="M306.55,718.94 C306.55,716.60 307.54,716.34 309.52,716.50 C313.15,716.81 316.45,716.81 320.08,716.50 C322.06,716.34 323.05,716.60 323.05,718.68 C323.05,720.50 322.06,721.28 319.75,721.54 C316.78,722.32 312.82,722.32 309.85,721.54 C307.54,721.28 306.55,720.50 306.55,718.94Z" fill="#06060e" opacity="1" filter="url(#bl)"/>
<path d="M329.95,718.94 C329.95,716.60 330.88,716.34 332.74,716.50 C336.15,716.81 339.25,716.81 342.66,716.50 C344.52,716.34 345.45,716.60 345.45,718.68 C345.45,720.50 344.52,721.28 342.35,721.54 C339.56,722.32 335.84,722.32 333.05,721.54 C330.88,721.28 329.95,720.50 329.95,718.94Z" fill="#06060e" opacity="1" filter="url(#bl)"/>
<path d="M352.35,718.94 C352.35,716.60 353.28,716.34 355.14,716.50 C358.55,716.81 361.65,716.81 365.06,716.50 C366.92,716.34 367.85,716.60 367.85,718.68 C367.85,720.50 366.92,721.28 364.75,721.54 C361.96,722.32 358.24,722.32 355.45,721.54 C353.28,721.28 352.35,720.50 352.35,718.94Z" fill="#06060e" opacity="1" filter="url(#bl)"/>
<path d="M374.25,718.94 C374.25,716.60 375.24,716.34 377.22,716.50 C380.85,716.81 384.15,716.81 387.78,716.50 C389.76,716.34 390.75,716.60 390.75,718.68 C390.75,720.50 389.76,721.28 387.45,721.54 C384.48,722.32 380.52,722.32 377.55,721.54 C375.24,721.28 374.25,720.50 374.25,718.94Z" fill="#06060e" opacity="1" filter="url(#bl)"/>
<path d="M396.75,718.94 C396.75,716.60 397.80,716.34 399.90,716.50 C403.75,716.81 407.25,716.81 411.10,716.50 C413.20,716.34 414.25,716.60 414.25,718.68 C414.25,720.50 413.20,721.28 410.75,721.54 C407.60,722.32 403.40,722.32 400.25,721.54 C397.80,721.28 396.75,720.50 396.75,718.94Z" fill="#06060e" opacity="1" filter="url(#bl)"/>
<ellipse cx="251.8" cy="588" rx="2.3" ry="1.9" fill="#6a9ad8" opacity="0.85" filter="url(#bl)"/>
<ellipse cx="251.8" cy="599.5" rx="2.3" ry="1.9" fill="#6a9ad8" opacity="0.85" filter="url(#bl)"/>
<ellipse cx="251.8" cy="618" rx="2.3" ry="1.9" fill="#6a9ad8" opacity="0.85" filter="url(#bl)"/>
<ellipse cx="251.8" cy="631" rx="2.3" ry="1.9" fill="#6a9ad8" opacity="0.85" filter="url(#bl)"/>
<ellipse cx="251.8" cy="677" rx="2.3" ry="1.9" fill="#6a9ad8" opacity="0.85" filter="url(#bl)"/>
<ellipse cx="251.8" cy="688" rx="2.3" ry="1.9" fill="#6a9ad8" opacity="0.85" filter="url(#bl)"/>
<ellipse cx="251.8" cy="708" rx="2.3" ry="1.9" fill="#6a9ad8" opacity="0.85" filter="url(#bl)"/>
<ellipse cx="251.8" cy="719" rx="2.3" ry="1.9" fill="#6a9ad8" opacity="0.85" filter="url(#bl)"/>
<ellipse cx="421.5" cy="589" rx="1.6" ry="1.4" fill="#6a9ad8" opacity="0.7" filter="url(#bl)"/>
<ellipse cx="421.5" cy="599" rx="1.6" ry="1.4" fill="#6a9ad8" opacity="0.7" filter="url(#bl)"/>
<ellipse cx="421.5" cy="618" rx="1.6" ry="1.4" fill="#6a9ad8" opacity="0.7" filter="url(#bl)"/>
<ellipse cx="421.5" cy="632" rx="1.6" ry="1.4" fill="#6a9ad8" opacity="0.7" filter="url(#bl)"/>
<ellipse cx="421.5" cy="708" rx="1.6" ry="1.4" fill="#6a9ad8" opacity="0.7" filter="url(#bl)"/>
<ellipse cx="421.5" cy="720" rx="1.6" ry="1.4" fill="#6a9ad8" opacity="0.7" filter="url(#bl)"/>
<line x1="262.8" y1="567.3" x2="317.9" y2="567.3" stroke="#111" stroke-width="1.2"/>
<line x1="328.9" y1="567.3" x2="413.5" y2="567.3" stroke="#111" stroke-width="1.2"/>
<g transform="translate(273.90,564.90)"><text font-size="10.2" fill="#000" stroke="#000" stroke-width="0.2">Normal</text></g>
<g transform="translate(358.35,564.90)"><text font-size="10.2" fill="#000" stroke="#000" stroke-width="0.2">eosPE</text></g>
<g transform="translate(266.60,581.30)"><text font-size="10.8" fill="#000" stroke="#000" stroke-width="0.2"> </text><path transform="translate(0.000,0) scale(0.005273,-0.005273)" d="M763,0L583,0L583,1147Q518,1085 415,1024.5Q312,964 223,931L223,1105Q374,1176 487,1276.5Q600,1377 647,1472L763,1472Z" fill="#000" stroke="#000" stroke-width="37.9"/></g>
<g transform="translate(289.20,581.30)"><text font-size="10.8" fill="#000" stroke="#000" stroke-width="0.2">2</text></g>
<g transform="translate(310.03,581.30)"><text font-size="10.8" fill="#000" stroke="#000" stroke-width="0.2">3</text></g>
<g transform="translate(334.90,581.30)"><text font-size="10.8" fill="#000" stroke="#000" stroke-width="0.2"> </text><path transform="translate(0.000,0) scale(0.005273,-0.005273)" d="M763,0L583,0L583,1147Q518,1085 415,1024.5Q312,964 223,931L223,1105Q374,1176 487,1276.5Q600,1377 647,1472L763,1472Z" fill="#000" stroke="#000" stroke-width="37.9"/></g>
<g transform="translate(357.50,581.30)"><text font-size="10.8" fill="#000" stroke="#000" stroke-width="0.2">2</text></g>
<g transform="translate(379.53,581.30)"><text font-size="10.8" fill="#000" stroke="#000" stroke-width="0.2">3</text></g>
<g transform="translate(402.03,581.30)"><text font-size="10.8" fill="#000" stroke="#000" stroke-width="0.2">4</text></g>
<g transform="translate(267.83,669.90)"><text font-size="10.8" fill="#000" stroke="#000" stroke-width="0.2">4</text></g>
<g transform="translate(289.00,669.90)"><text font-size="10.8" fill="#000" stroke="#000" stroke-width="0.2">5</text></g>
<g transform="translate(309.78,669.90)"><text font-size="10.8" fill="#000" stroke="#000" stroke-width="0.2">6</text></g>
<g transform="translate(335.20,669.90)"><text font-size="10.8" fill="#000" stroke="#000" stroke-width="0.2">5</text></g>
<g transform="translate(357.28,669.90)"><text font-size="10.8" fill="#000" stroke="#000" stroke-width="0.2">6</text></g>
<g transform="translate(379.90,669.90)"><text font-size="10.8" fill="#000" stroke="#000" stroke-width="0.2">7</text></g>
<g transform="translate(402.48,669.90)"><text font-size="10.8" fill="#000" stroke="#000" stroke-width="0.2">8</text></g>
<g transform="translate(198.00,602.00)"><text font-size="13.2" fill="#000" stroke="#000" stroke-width="0.2">COL6A </text><path transform="translate(43.287,0) scale(0.006445,-0.006445)" d="M763,0L583,0L583,1147Q518,1085 415,1024.5Q312,964 223,931L223,1105Q374,1176 487,1276.5Q600,1377 647,1472L763,1472Z" fill="#000" stroke="#000" stroke-width="31.0"/></g>
<g transform="translate(206.90,632.50)"><text font-size="13.3" fill="#000" stroke="#000" stroke-width="0.2">β-actin</text></g>
<g transform="translate(198.00,692.50)"><text font-size="13.2" fill="#000" stroke="#000" stroke-width="0.2">COL6A </text><path transform="translate(43.287,0) scale(0.006445,-0.006445)" d="M763,0L583,0L583,1147Q518,1085 415,1024.5Q312,964 223,931L223,1105Q374,1176 487,1276.5Q600,1377 647,1472L763,1472Z" fill="#000" stroke="#000" stroke-width="31.0"/></g>
<g transform="translate(206.90,722.50)"><text font-size="13.3" fill="#000" stroke="#000" stroke-width="0.2">β-actin</text></g>
<g transform="translate(425.06,601.90)"><text font-size="11.4" fill="#000" stroke="#000" stroke-width="0.2"> 40 KDa</text><path transform="translate(0.000,0) scale(0.005566,-0.005566)" d="M763,0L583,0L583,1147Q518,1085 415,1024.5Q312,964 223,931L223,1105Q374,1176 487,1276.5Q600,1377 647,1472L763,1472Z" fill="#000" stroke="#000" stroke-width="35.9"/></g>
<g transform="translate(426.01,632.50)"><text font-size="11.4" fill="#000" stroke="#000" stroke-width="0.2">42 KDa</text></g>
<g transform="translate(425.06,692.70)"><text font-size="11.4" fill="#000" stroke="#000" stroke-width="0.2"> 40 KDa</text><path transform="translate(0.000,0) scale(0.005566,-0.005566)" d="M763,0L583,0L583,1147Q518,1085 415,1024.5Q312,964 223,931L223,1105Q374,1176 487,1276.5Q600,1377 647,1472L763,1472Z" fill="#000" stroke="#000" stroke-width="35.9"/></g>
<g transform="translate(426.01,722.30)"><text font-size="11.4" fill="#000" stroke="#000" stroke-width="0.2">42 KDa</text></g>
</svg>
</body></html>
